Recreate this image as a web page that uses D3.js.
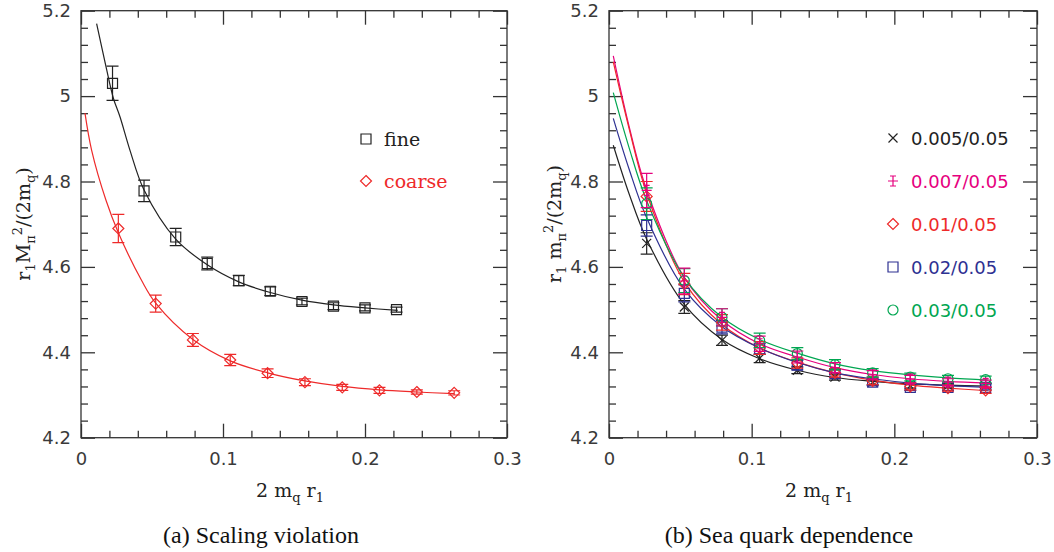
<!DOCTYPE html>
<html>
<head>
<meta charset="utf-8">
<script src="https://cdn.jsdelivr.net/npm/d3@7"></script>
<style>
  body { margin: 0; background: #fff; }
</style>
</head>
<body>
<div class="chart"></div>
<script>
// axis ticks
const xMajor = [0, 0.1, 0.2, 0.3];
const xLabels = ['0', '0.1', '0.2', '0.3'];
const yMajor = [4.2, 4.4, 4.6, 4.8, 5, 5.2];
const yLabels = ['4.2', '4.4', '4.6', '4.8', '5', '5.2'];

// (a) scaling violation
const fineX = [0.0222, 0.0444, 0.0667, 0.0889, 0.1111, 0.1333, 0.1556, 0.1778, 0.2, 0.2222];
const fineY = [5.03, 4.778, 4.67, 4.608, 4.568, 4.543, 4.519, 4.508, 4.504, 4.5];
const fineErr = [0.04, 0.025, 0.02, 0.015, 0.012, 0.01, 0.008, 0.008, 0.007, 0.006];
const fineFitX = [0.011, 0.0176, 0.0228, 0.0275, 0.0345, 0.0444, 0.0667, 0.0889, 0.1111, 0.1333, 0.1556, 0.1778, 0.2, 0.223];
const fineFitY = [5.17, 5.069, 4.995, 4.951, 4.873, 4.78, 4.665, 4.605, 4.565, 4.54, 4.522, 4.511, 4.504, 4.498];

const coarseX = [0.0263, 0.0526, 0.0788, 0.1051, 0.1314, 0.1577, 0.184, 0.2102, 0.2365, 0.2628];
const coarseY = [4.69, 4.514, 4.429, 4.382, 4.351, 4.33, 4.318, 4.311, 4.307, 4.305];
const coarseErr = [0.033, 0.02, 0.015, 0.013, 0.01, 0.008, 0.007, 0.007, 0.005, 0.005];
const coarseFitX = [0.0028, 0.0075, 0.0176, 0.0263, 0.0427, 0.0526, 0.0788, 0.1051, 0.1314, 0.1577, 0.184, 0.2102, 0.2365, 0.2628];
const coarseFitY = [4.96, 4.873, 4.756, 4.68, 4.568, 4.515, 4.43, 4.38, 4.352, 4.333, 4.32, 4.312, 4.307, 4.303];

// (b) sea quark dependence
const seaX = [0.0264, 0.0528, 0.0792, 0.1056, 0.132, 0.1584, 0.1848, 0.2112, 0.2376, 0.264];
const seaFitX = [0.003, 0.014, 0.0264, 0.0528, 0.0792, 0.1056, 0.132, 0.1584, 0.1848, 0.2112, 0.2376, 0.266];
const seaNames = ['0.005/0.05', '0.007/0.05', '0.01/0.05', '0.02/0.05', '0.03/0.05'];

const sea005Y = [4.655, 4.506, 4.428, 4.386, 4.358, 4.342, 4.33, 4.322, 4.322, 4.322];
const sea007Y = [4.779, 4.567, 4.482, 4.42, 4.389, 4.364, 4.347, 4.337, 4.33, 4.327];
const sea01Y = [4.765, 4.56, 4.47, 4.41, 4.375, 4.352, 4.333, 4.32, 4.316, 4.311];
const sea02Y = [4.697, 4.538, 4.459, 4.408, 4.37, 4.35, 4.33, 4.318, 4.318, 4.318];
const sea03Y = [4.748, 4.568, 4.482, 4.428, 4.397, 4.371, 4.352, 4.342, 4.338, 4.336];

const sea005Err = [0.025, 0.015, 0.012, 0.01, 0.008, 0.007, 0.006, 0.006, 0.005, 0.005];
const sea007Err = [0.04, 0.03, 0.02, 0.018, 0.014, 0.012, 0.01, 0.009, 0.008, 0.008];
const sea01Err = [0.035, 0.025, 0.018, 0.015, 0.012, 0.01, 0.009, 0.008, 0.007, 0.007];
const sea02Err = [0.025, 0.02, 0.016, 0.013, 0.011, 0.009, 0.008, 0.007, 0.007, 0.006];
const sea03Err = [0.037, 0.028, 0.02, 0.017, 0.014, 0.012, 0.01, 0.009, 0.008, 0.008];

const sea005Fit = [4.885, 4.772, 4.665, 4.512, 4.43, 4.385, 4.358, 4.341, 4.332, 4.326, 4.323, 4.321];
const sea007Fit = [5.094, 4.93, 4.78, 4.575, 4.475, 4.42, 4.389, 4.364, 4.348, 4.338, 4.332, 4.328];
const sea01Fit = [5.08, 4.925, 4.772, 4.565, 4.465, 4.41, 4.377, 4.352, 4.335, 4.323, 4.316, 4.31];
const sea02Fit = [4.948, 4.83, 4.715, 4.548, 4.46, 4.41, 4.376, 4.352, 4.338, 4.328, 4.322, 4.318];
const sea03Fit = [5.008, 4.88, 4.755, 4.575, 4.482, 4.43, 4.398, 4.373, 4.357, 4.347, 4.34, 4.335];

// marker shapes
const symbols = {
  square: 'M-5,-5H5V5H-5Z',
  diamond: 'M0,-5.5L5.5,0L0,5.5L-5.5,0Z',
  cross: 'M-4.5,-4.5L4.5,4.5M-4.5,4.5L4.5,-4.5',
  plus: 'M-5,0H5M0,-5V5M-3,-5H3M-3,5H3',
  circle: 'M5,0A5,5 0 1,1 -5,0A5,5 0 1,1 5,0Z'
};

const W = 1054, H = 552;
const plotTop = 10.7, plotBottom = 437.7;
const axisColor = '#333';
const sans = 'DejaVu Sans';
const serif = 'DejaVu Serif';

const svg = d3.select('.chart')
  .append('svg')
  .attr('width', W)
  .attr('height', H);

svg.append('rect').attr('width', W).attr('height', H).attr('fill', '#fff');

// text with sub/superscripts
const richText = (sel, parts, size, subSize) => {
  let level = 0;
  parts.forEach(([t, kind]) => {
    const target = kind === 'sub' ? 5 : kind === 'sup' ? -8 : 0;
    sel.append('tspan')
      .attr('dy', target - level)
      .attr('font-size', kind === 'n' ? size : subSize)
      .text(t);
    level = target;
  });
};

// build one panel (axes + frame) and return its scales
const makePanel = (x0, x1) => {
  const x = d3.scaleLinear().domain([0, 0.3]).range([x0, x1]);
  const y = d3.scaleLinear().domain([4.2, 5.2]).range([plotBottom, plotTop]);
  const xMinor = d3.range(0.02, 0.3, 0.02).filter(v => Math.abs(v - 0.1) > 1e-6 && Math.abs(v - 0.2) > 1e-6);
  const yMinor = d3.range(4.24, 5.2, 0.04).filter(v => yMajor.every(m => Math.abs(v - m) > 1e-6));

  const axes = svg.append('g').attr('class', 'axes');
  const add = (axis, tr) => {
    const g = axes.append('g').attr('transform', tr).call(axis);
    g.select('.domain').remove();
    g.selectAll('line').attr('stroke', axisColor).attr('stroke-width', 1.3);
    g.selectAll('text').attr('font-family', sans).attr('font-size', 18).attr('fill', '#3a3a3a');
    return g;
  };
  // bottom
  add(d3.axisBottom(x).tickValues(xMajor).tickSize(-14).tickPadding(15).tickFormat((d, i) => xLabels[i]), `translate(0,${plotBottom})`);
  add(d3.axisBottom(x).tickValues(xMinor).tickSize(-7).tickFormat(''), `translate(0,${plotBottom})`);
  // top
  add(d3.axisTop(x).tickValues(xMajor).tickSize(-14).tickFormat(''), `translate(0,${plotTop})`);
  add(d3.axisTop(x).tickValues(xMinor).tickSize(-7).tickFormat(''), `translate(0,${plotTop})`);
  // left
  add(d3.axisLeft(y).tickValues(yMajor).tickSize(-14).tickPadding(10).tickFormat((d, i) => yLabels[i]), `translate(${x0},0)`);
  add(d3.axisLeft(y).tickValues(yMinor).tickSize(-7).tickFormat(''), `translate(${x0},0)`);
  // right
  add(d3.axisRight(y).tickValues(yMajor).tickSize(-14).tickFormat(''), `translate(${x1},0)`);
  add(d3.axisRight(y).tickValues(yMinor).tickSize(-7).tickFormat(''), `translate(${x1},0)`);

  axes.append('rect')
    .attr('x', x0).attr('y', plotTop)
    .attr('width', x1 - x0).attr('height', plotBottom - plotTop)
    .attr('fill', 'none').attr('stroke', axisColor).attr('stroke-width', 1.3);

  // x axis title
  const xt = svg.append('text')
    .attr('x', (x0 + x1) / 2 - 4).attr('y', 497)
    .attr('text-anchor', 'middle')
    .attr('font-family', serif).attr('fill', '#222');
  richText(xt, [['2 m', 'n'], ['q', 'sub'], [' r', 'n'], ['1', 'sub']], 19, 13);

  return { x, y };
};

const drawFit = (p, xs, ys, color) => {
  const line = d3.line()
    .x(d => p.x(d[0]))
    .y(d => p.y(d[1]))
    .curve(d3.curveCatmullRom.alpha(0.5));
  svg.append('path')
    .datum(xs.map((v, i) => [v, ys[i]]))
    .attr('fill', 'none')
    .attr('stroke', color)
    .attr('stroke-width', 1.2)
    .attr('d', line);
};

const drawPoints = (p, xs, ys, errs, color, shape) => {
  const g = svg.append('g');
  xs.forEach((v, i) => {
    const cx = p.x(v), cy = p.y(ys[i]);
    const yTop = p.y(ys[i] + errs[i]), yBot = p.y(ys[i] - errs[i]);
    g.append('path')
      .attr('d', `M${cx},${yTop}V${yBot}M${cx - 6},${yTop}H${cx + 6}M${cx - 6},${yBot}H${cx + 6}`)
      .attr('stroke', color).attr('stroke-width', 1.2).attr('fill', 'none');
    g.append('path')
      .attr('d', symbols[shape])
      .attr('transform', `translate(${cx},${cy})`)
      .attr('stroke', color).attr('stroke-width', 1.2).attr('fill', 'none');
  });
};

const legendRow = (x, y, color, shape, label, font, size) => {
  svg.append('path')
    .attr('d', symbols[shape])
    .attr('transform', `translate(${x},${y})`)
    .attr('stroke', color).attr('stroke-width', 1.2).attr('fill', 'none');
  svg.append('text')
    .attr('x', x + 18).attr('y', y + 7)
    .attr('font-family', font).attr('font-size', size)
    .attr('fill', color)
    .text(label);
};

const yTitle = (cx, parts) => {
  const t = svg.append('text')
    .attr('transform', `translate(${cx},224) rotate(-90)`)
    .attr('text-anchor', 'middle')
    .attr('font-family', serif).attr('fill', '#222');
  richText(t, parts, 19, 13);
};

// ---- panel (a)
const pa = makePanel(81, 507);
drawFit(pa, fineFitX, fineFitY, '#222');
drawFit(pa, coarseFitX, coarseFitY, '#ee2a2a');
drawPoints(pa, fineX, fineY, fineErr, '#222', 'square');
drawPoints(pa, coarseX, coarseY, coarseErr, '#ee2a2a', 'diamond');
legendRow(366, 139, '#222', 'square', 'fine', serif, 19);
legendRow(366, 181, '#ee2a2a', 'diamond', 'coarse', serif, 19);
yTitle(30, [['r', 'n'], ['1', 'sub'], ['M', 'n'], ['\u03c0', 'sub'], ['2', 'sup'], ['/(2m', 'n'], ['q', 'sub'], [')', 'n']]);

// ---- panel (b)
const pb = makePanel(609, 1037);
const seaColors = ['#222', '#e6007e', '#ee2a2a', '#2e3192', '#00a651'];
const seaShapes = ['cross', 'plus', 'diamond', 'square', 'circle'];
const seaY = [sea005Y, sea007Y, sea01Y, sea02Y, sea03Y];
const seaErr = [sea005Err, sea007Err, sea01Err, sea02Err, sea03Err];
const seaFit = [sea005Fit, sea007Fit, sea01Fit, sea02Fit, sea03Fit];

seaFit.forEach((f, i) => drawFit(pb, seaFitX, f, seaColors[i]));
[0, 3, 2, 4, 1].forEach(i => drawPoints(pb, seaX, seaY[i], seaErr[i], seaColors[i], seaShapes[i]));
seaNames.forEach((n, i) => legendRow(893, 138 + i * 43, seaColors[i], seaShapes[i], n, sans, 18));
yTitle(561, [['r', 'n'], ['1', 'sub'], [' m', 'n'], ['\u03c0', 'sub'], ['2', 'sup'], ['/(2m', 'n'], ['q', 'sub'], [')', 'n']]);

// ---- captions
svg.append('text')
  .attr('x', 261).attr('y', 543)
  .attr('text-anchor', 'middle')
  .attr('font-family', 'Liberation Serif').attr('font-size', 24).attr('fill', '#111')
  .text('(a)  Scaling violation');
svg.append('text')
  .attr('x', 789).attr('y', 543)
  .attr('text-anchor', 'middle')
  .attr('font-family', 'Liberation Serif').attr('font-size', 24).attr('fill', '#111')
  .text('(b)  Sea quark dependence');
</script>
</body>
</html>
